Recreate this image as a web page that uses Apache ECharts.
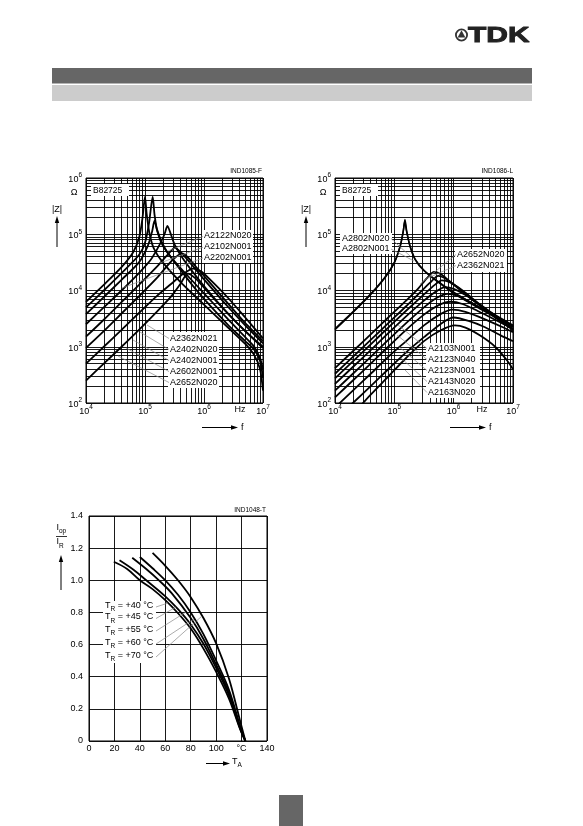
<!DOCTYPE html>
<html>
<head>
<meta charset="utf-8">
<title>B82725 impedance and current derating</title>
<script src="https://cdn.jsdelivr.net/npm/echarts@6.0.0/dist/echarts.min.js"></script>
<style>
html,body{margin:0;padding:0;background:#ffffff;}
#chart{width:583px;height:826px;}
</style>
</head>
<body>
<div id="chart"></div>
<script>
// ================= DATA =================
// Diagram IND1085-F : |Z| in Ohm versus f in Hz
const leftNames = ['A2122N020','A2102N001','A2202N001','A2362N021','A2402N020','A2402N001','A2602N001','A2652N020'];
const left_A2122N020 = [[1e4,6300],[2e4,12600],[4e4,26000],[6.3e4,47900],[8e4,89000],[9.1e4,200000],[1e5,468000],[1.07e5,224000],[1.2e5,100000],[1.41e5,56000],[2e5,31600],[4e5,14100],[1e6,5600],[2.5e6,2240],[5e6,1120],[7.1e6,710],[8.9e6,400],[1e7,166]];
const left_A2102N001 = [[1e4,5000],[2e4,10000],[4e4,20400],[7.9e4,42700],[1e5,70800],[1.17e5,158000],[1.35e5,468000],[1.45e5,224000],[1.62e5,112000],[2e5,63000],[3.2e5,31600],[6.3e5,12600],[1e6,7080],[2.5e6,2510],[5e6,1260],[7.1e6,890],[8.9e6,560],[1e7,280]];
const left_A2202N001 = [[1e4,3800],[2e4,7600],[4e4,15500],[7.9e4,31600],[1.12e5,63000],[1.32e5,112000],[1.45e5,174000],[1.58e5,126000],[1.86e5,79000],[2.5e5,44700],[4e5,25100],[1e6,8900],[2.5e6,3160],[5e6,1480],[7.1e6,1000],[8.9e6,630],[1e7,400]];
const left_A2362N021 = [[1e4,2510],[2e4,5000],[4e4,10000],[7.9e4,20400],[1.26e5,35500],[1.78e5,66000],[2.14e5,100000],[2.4e5,141000],[2.7e5,105000],[3.16e5,66000],[4.5e5,35500],[1e6,12000],[2.5e6,3980],[5e6,1900],[1e7,1000]];
const left_A2402N020 = [[1e4,1510],[2e4,3020],[4e4,6200],[7.9e4,12600],[1.58e5,26300],[2.5e5,44700],[3.2e5,57500],[4e5,47900],[6.3e5,28200],[1e6,15800],[2.5e6,5250],[5e6,2400],[1e7,1150]];
const left_A2402N001 = [[1e4,955],[2e4,1900],[4e4,3900],[7.9e4,7900],[1.58e5,16600],[2.8e5,33100],[4.2e5,45700],[5.2e5,39800],[7.9e5,24000],[1e6,18200],[2.5e6,6030],[5e6,2630],[1e7,1260]];
const left_A2602N001 = [[1e4,250],[2e4,500],[4e4,1000],[7.9e4,2000],[1.58e5,4170],[2.8e5,7940],[4e5,13200],[5.3e5,20000],[7.1e5,16600],[1e6,11200],[2.5e6,3980],[5e6,1900],[1e7,950]];
const left_A2652N020 = [[1e4,500],[2e4,1000],[4e4,2000],[7.9e4,3980],[1.58e5,7940],[2.8e5,13200],[4.5e5,20000],[6.6e5,24500],[8.9e5,21900],[1.26e6,15800],[2.5e6,7590],[5e6,3310],[1e7,1410]];

// Diagram IND1086-L : |Z| in Ohm versus f in Hz
const right_A2802N020 = [[1e4,2090],[2e4,4170],[4e4,8710],[7.1e4,17800],[1e5,31600],[1.26e5,63100],[1.41e5,112000],[1.51e5,182000],[1.62e5,112000],[1.82e5,63100],[2.24e5,35500],[3.16e5,22400],[5e5,15100],[1e6,8910],[2.5e6,5010],[5e6,3310],[1e7,2000]];
const right_A2802N001 = [[1e4,2000],[2e4,4070],[4e4,8510],[7.1e4,17400],[1e5,30900],[1.26e5,61700],[1.41e5,110000],[1.5e5,170000],[1.6e5,115000],[1.82e5,64600],[2.24e5,36300],[3.16e5,22900],[5e5,15500],[1e6,9330],[2.5e6,5250],[5e6,3470],[1e7,2090]];
const right_A2652N020 = [[1e4,417],[2e4,832],[4e4,1660],[7.9e4,3310],[1.58e5,6610],[2.5e5,10700],[3.55e5,16600],[4.68e5,21400],[6.3e5,19100],[1e6,12600],[2e6,7080],[4e6,3980],[1e7,2000]];
const right_A2362N021 = [[1e4,331],[2e4,661],[4e4,1320],[7.9e4,2630],[1.58e5,5250],[2.8e5,9550],[4e5,13800],[5.5e5,18200],[7.6e5,15800],[1.26e6,10700],[2.5e6,6030],[5e6,3550],[1e7,2240]];
const right_A2103N001 = [[1e4,275],[2e4,550],[4e4,1100],[7.9e4,2190],[1.58e5,4370],[3.16e5,8510],[4.8e5,12600],[6.3e5,15100],[8.9e5,13800],[1.41e6,10000],[2.8e6,5620],[5.6e6,3310],[1e7,2290]];
const right_A2123N040 = [[1e4,219],[2e4,437],[4e4,871],[7.9e4,1740],[1.58e5,3470],[3.16e5,6610],[5e5,9550],[7.2e5,11500],[1e6,10700],[1.58e6,8320],[3.16e6,5010],[6.3e6,3160],[1e7,2400]];
const right_A2123N001 = [[1e4,166],[2e4,331],[4e4,661],[7.9e4,1320],[1.58e5,2630],[3.16e5,5010],[5.2e5,7410],[7.9e5,8710],[1.2e6,7940],[2e6,6030],[4e6,3980],[7.1e6,2820],[1e7,2290]];
const right_A2143N020 = [[1e4,126],[2e4,251],[4e4,501],[7.9e4,1000],[1.58e5,2000],[3.16e5,3720],[5.6e5,5500],[8.9e5,6310],[1.41e6,5750],[2.5e6,4370],[5e6,3020],[1e7,2090]];
const right_A2163N020 = [[1e4,83],[2e4,166],[4e4,331],[7.9e4,661],[1.58e5,1260],[3.16e5,2400],[6e5,3800],[9.5e5,4570],[1.58e6,4170],[3.16e6,3160],[6.3e6,2290],[1e7,1820]];
const right_extra1 = [[1e4,50],[2e4,100],[4e4,200],[7.9e4,398],[1.58e5,794],[3.16e5,1480],[6.3e5,2630],[1e6,3310],[1.78e6,2880],[3.16e6,2290],[6.3e6,1580],[1e7,1260]];
const right_extra2 = [[2e4,63],[4e4,141],[7.9e4,295],[1.58e5,631],[3.16e5,1260],[6.3e5,2000],[1.05e6,2400],[1.58e6,2190],[2.8e6,1580],[5e6,1000],[7.9e6,575],[1e7,398]];

// Diagram IND1048-T : I_op/I_R versus T_A in degC
const derate_TR40 = [[19.5,1.115],[30,1.07],[40,1.0],[50,0.945],[60,0.876],[70,0.795],[80,0.70],[90,0.575],[100,0.43],[110,0.265],[119,0.07],[123,0]];
const derate_TR45 = [[24,1.124],[35,1.065],[45,1.0],[60,0.90],[70,0.82],[80,0.725],[90,0.605],[100,0.455],[110,0.285],[119,0.075],[123,0]];
const derate_TR55 = [[34,1.14],[45,1.07],[55,1.0],[65,0.92],[80,0.765],[90,0.635],[100,0.475],[110,0.30],[119,0.08],[123,0]];
const derate_TR60 = [[40,1.145],[50,1.075],[60,1.0],[70,0.91],[80,0.80],[90,0.665],[100,0.50],[110,0.32],[119,0.09],[123,0]];
const derate_TR70 = [[50,1.17],[60,1.09],[70,1.0],[80,0.895],[90,0.765],[100,0.607],[110,0.39],[119,0.12],[123,0]];
const derateLabels = ['+40','+45','+55','+60','+70'];

// tick / grid definitions
const decadesX = [1e4, 1e5, 1e6];
const decadesY = [1e2, 1e3, 1e4, 1e5];
const mantissas = [2, 3, 4, 5, 6, 7, 8, 9];
const tempTicks = { min: 0, max: 140, step: 20 };
const ratioTicks = { min: 0, max: 1.4, step: 0.2 };

// ================= LAYOUT / STYLE =================
const FONT = '"Liberation Sans", Arial, Helvetica, sans-serif';
const gridL = { left: 86, top: 178, width: 177, height: 225 };
const gridR = { left: 335, top: 178, width: 178, height: 225 };
const gridB = { left: 89, top: 516, width: 178, height: 225 };

const powRich = {
  b: { fontSize: 9, fontFamily: FONT, color: '#000', lineHeight: 12, verticalAlign: 'bottom' },
  s: { fontSize: 6.5, fontFamily: FONT, color: '#000', lineHeight: 4, verticalAlign: 'top' }
};
function powLabel(v) {
  const e = Math.round(Math.log10(v));
  return '{b|10}{s|' + e + '}';
}

function logXAxis(gi) {
  return {
    type: 'log', logBase: 10, gridIndex: gi, min: 1e4, max: 1e7, splitNumber: 3,
    axisLine: { show: false }, axisTick: { show: false },
    splitLine: { show: true, lineStyle: { color: '#000', width: 0.9 } },
    axisLabel: { formatter: powLabel, rich: powRich, margin: 1, showMinLabel: true, showMaxLabel: true }
  };
}
function logYAxis(gi) {
  return {
    type: 'log', logBase: 10, gridIndex: gi, min: 1e2, max: 1e6, splitNumber: 4,
    axisLine: { show: false }, axisTick: { show: false },
    splitLine: { show: true, lineStyle: { color: '#000', width: 0.9 } },
    axisLabel: { formatter: powLabel, rich: powRich, margin: 4, showMinLabel: true, showMaxLabel: true }
  };
}

function minorGridSeries(ai) {
  const lines = [];
  decadesX.forEach(d => mantissas.forEach(m => lines.push({ xAxis: d * m })));
  decadesY.forEach(d => mantissas.forEach(m => lines.push({ yAxis: d * m })));
  return {
    type: 'line', xAxisIndex: ai, yAxisIndex: ai, data: [[1e4, 1e2]], symbol: 'none', z: 1,
    lineStyle: { opacity: 0 }, silent: true,
    markLine: {
      silent: true, symbol: ['none', 'none'], label: { show: false }, animation: false,
      lineStyle: { type: 'solid', color: '#000', width: 0.9 },
      emphasis: { disabled: true },
      data: lines
    }
  };
}

function curve(ai, name, data, w) {
  return {
    type: 'line', name: name, xAxisIndex: ai, yAxisIndex: ai, data: data,
    showSymbol: false, symbol: 'none', smooth: 0.25, clip: true, z: 3, silent: true,
    lineStyle: { color: '#000', width: w || 1.8 }
  };
}

const leftData = [left_A2122N020, left_A2102N001, left_A2202N001, left_A2362N021, left_A2402N020, left_A2402N001, left_A2602N001, left_A2652N020];
const rightData = [
  ['A2802N020', right_A2802N020], ['A2802N001', right_A2802N001], ['A2652N020', right_A2652N020], ['A2362N021', right_A2362N021],
  ['A2103N001', right_A2103N001], ['A2123N040', right_A2123N040], ['A2123N001', right_A2123N001], ['A2143N020', right_A2143N020],
  ['A2163N020', right_A2163N020], ['extra1', right_extra1], ['extra2', right_extra2]
];
const derateData = [derate_TR40, derate_TR45, derate_TR55, derate_TR60, derate_TR70];

const series = [];
series.push(minorGridSeries(0));
series.push(minorGridSeries(1));
leftData.forEach((d, i) => series.push(curve(0, leftNames[i], d)));
rightData.forEach(p => series.push(curve(1, p[0], p[1], p[0].startsWith('A2802') ? 1.5 : 1.8)));
derateData.forEach((d, i) => series.push({
  type: 'line', name: 'TR' + derateLabels[i], xAxisIndex: 2, yAxisIndex: 2, data: d,
  showSymbol: false, symbol: 'none', smooth: 0.35, z: 3, silent: true,
  lineStyle: { color: '#000', width: 1.8 }
}));

// ================= GRAPHIC HELPERS =================
const G = [];
function txt(x, y, text, o) {
  o = o || {};
  G.push({
    type: 'text', x: x, y: y, z: 100, silent: true,
    scaleX: o.scaleX || 1,
    style: {
      text: text, fill: o.fill || '#000', fontSize: o.fontSize || 9, fontFamily: FONT,
      fontWeight: o.fontWeight || 'normal',
      stroke: o.stroke, lineWidth: o.lineWidth,
      align: o.align || 'left', verticalAlign: 'middle',
      textAlign: o.align || 'left', textVerticalAlign: 'middle',
      rich: o.rich
    }
  });
}
function rect(x, y, w, h, fill) {
  G.push({ type: 'rect', z: 90, silent: true, shape: { x: x, y: y, width: w, height: h }, style: { fill: fill } });
}
function seg(x1, y1, x2, y2, color, width) {
  G.push({ type: 'line', z: 95, silent: true, shape: { x1: x1, y1: y1, x2: x2, y2: y2 }, style: { stroke: color || '#000', lineWidth: width || 1 } });
}
function arrow(x1, y1, x2, y2) {
  const dx = x2 - x1, dy = y2 - y1, L = Math.sqrt(dx * dx + dy * dy);
  const ux = dx / L, uy = dy / L, hl = 7, hw = 2.2;
  const bx = x2 - ux * hl, by = y2 - uy * hl;
  seg(x1, y1, bx, by, '#000', 1);
  G.push({ type: 'polygon', z: 95, silent: true, shape: { points: [[x2, y2], [bx - uy * hw, by + ux * hw], [bx + uy * hw, by - ux * hw]] }, style: { fill: '#000' } });
}

// page frame
rect(52, 68, 480, 15.5, '#666666');
rect(52, 85, 480, 16, '#cccccc');
rect(279, 795, 24, 31, '#666666');
// TDK logo
G.push({ type: 'circle', z: 100, silent: true, shape: { cx: 461.5, cy: 35, r: 5.6 }, style: { fill: 'none', stroke: '#333', lineWidth: 1.8 } });
G.push({ type: 'polygon', z: 100, silent: true, shape: { points: [[461.5, 30.3], [465.4, 37.6], [457.6, 37.6]] }, style: { fill: '#333' } });
txt(468, 35.5, 'TDK', { fontSize: 22, fontWeight: 'bold', fill: '#222', stroke: '#222', lineWidth: 0.9, scaleX: 1.36 });

// ---- left diagram texts ----
txt(262, 171, 'IND1085-F', { fontSize: 6.5, align: 'right' });
rect(91, 184, 38, 12, '#fff');
txt(93, 190.5, 'B82725', { fontSize: 8.5 });
txt(74, 193, 'Ω', { fontSize: 9, align: 'center' });
txt(57, 210, '|Z|', { fontSize: 9, align: 'center' });
arrow(57, 247, 57, 216);
txt(240, 410, 'Hz', { fontSize: 9, align: 'center' });
arrow(202, 427.5, 238, 427.5);
txt(241, 427.5, 'f', { fontSize: 9 });
rect(202, 230, 51, 33, '#fff');
[['A2122N020', 236, 168, 251], ['A2102N001', 246.7, 160, 263], ['A2202N001', 257.4, 122, 288]].forEach(a => {
  txt(204, a[1], a[0]);
  seg(203, a[1] + 0.5, a[2], a[3], '#888', 0.7);
});
rect(168, 332, 51, 56, '#fff');
[['A2362N021', 338.5, 147, 325], ['A2402N020', 349.5, 140, 332], ['A2402N001', 360.5, 133, 340], ['A2602N001', 371.5, 126, 348], ['A2652N020', 382.5, 118, 356]].forEach(a => {
  txt(170, a[1], a[0]);
  seg(169, a[1], a[2], a[3], '#888', 0.7);
});

// ---- right diagram texts ----
txt(513, 171, 'IND1086-L', { fontSize: 6.5, align: 'right' });
rect(340, 184, 38, 12, '#fff');
txt(342, 190.5, 'B82725', { fontSize: 8.5 });
txt(323, 193, 'Ω', { fontSize: 9, align: 'center' });
txt(306, 210, '|Z|', { fontSize: 9, align: 'center' });
arrow(306, 247, 306, 216);
txt(482, 410, 'Hz', { fontSize: 9, align: 'center' });
arrow(450, 427.5, 486, 427.5);
txt(489, 427.5, 'f', { fontSize: 9 });
rect(340, 233, 52, 21, '#fff');
[['A2802N020', 238.5, 410, 256], ['A2802N001', 249, 414, 261]].forEach(a => {
  txt(342, a[1], a[0]);
  seg(391, a[1], a[2], a[3], '#888', 0.7);
});
rect(455, 249, 52, 23, '#fff');
[['A2652N020', 254.5, 420, 284], ['A2362N021', 265.5, 428, 278]].forEach(a => {
  txt(457, a[1], a[0]);
  seg(456, a[1], a[2], a[3], '#888', 0.7);
});
rect(426, 343, 54, 55, '#fff');
[['A2103N001', 348.5, 398, 325], ['A2123N040', 359.5, 397, 335], ['A2123N001', 370.5, 398, 346], ['A2143N020', 381.5, 401, 358], ['A2163N020', 392.5, 405, 370]].forEach(a => {
  txt(428, a[1], a[0]);
  seg(427, a[1], a[2], a[3], '#888', 0.7);
});

// ---- derating diagram texts ----
const subRich = {
  t: { fontSize: 9, fontFamily: FONT, color: '#000', lineHeight: 12, verticalAlign: 'top' },
  u: { fontSize: 6.5, fontFamily: FONT, color: '#000', lineHeight: 5, verticalAlign: 'bottom' }
};
txt(266, 510, 'IND1048-T', { fontSize: 6.5, align: 'right' });
txt(56.5, 529, '{t|I}{u|op}', { rich: subRich });
seg(56, 536.5, 67, 536.5, '#000', 0.8);
txt(56.5, 543.5, '{t|I}{u|R}', { rich: subRich });
arrow(61, 590, 61, 555);
arrow(206, 763.5, 230, 763.5);
txt(232, 763, '{t|T}{u|A}', { rich: subRich });
rect(103, 601, 53, 62, '#fff');
const trRows = [607, 618.5, 631, 644, 657];
const trEnds = [[168, 603], [176, 607], [186, 612], [194, 619], [202, 616]];
derateLabels.forEach((lab, i) => {
  txt(105, trRows[i], '{t|T}{u|R}{t| = ' + lab + ' °C}', { rich: subRich });
  seg(156, trRows[i], trEnds[i][0], trEnds[i][1], '#888', 0.7);
});

// ================= OPTION =================
const option = {
  animation: false,
  backgroundColor: '#ffffff',
  textStyle: { fontFamily: FONT },
  grid: [
    Object.assign({ show: true, borderColor: '#000', borderWidth: 1, containLabel: false }, gridL),
    Object.assign({ show: true, borderColor: '#000', borderWidth: 1, containLabel: false }, gridR),
    Object.assign({ show: true, borderColor: '#000', borderWidth: 1, containLabel: false }, gridB)
  ],
  xAxis: [
    logXAxis(0), logXAxis(1),
    {
      type: 'value', gridIndex: 2, min: tempTicks.min, max: tempTicks.max, interval: tempTicks.step,
      axisLine: { show: false }, axisTick: { show: false },
      splitLine: { show: true, lineStyle: { color: '#000', width: 0.9 } },
      axisLabel: { color: '#000', fontSize: 9, fontFamily: FONT, margin: 3, formatter: v => (v === 120 ? '°C' : String(v)) }
    }
  ],
  yAxis: [
    logYAxis(0), logYAxis(1),
    {
      type: 'value', gridIndex: 2, min: ratioTicks.min, max: ratioTicks.max, interval: ratioTicks.step,
      axisLine: { show: false }, axisTick: { show: false },
      splitLine: { show: true, lineStyle: { color: '#000', width: 0.9 } },
      axisLabel: { color: '#000', fontSize: 9, fontFamily: FONT, margin: 6, formatter: v => (v === 0 ? '0' : v.toFixed(1)) }
    }
  ],
  series: series,
  graphic: { elements: G }
};

const chart = echarts.init(document.getElementById('chart'), null, { renderer: 'canvas', width: 583, height: 826 });
chart.setOption(option);
</script>
</body>
</html>
